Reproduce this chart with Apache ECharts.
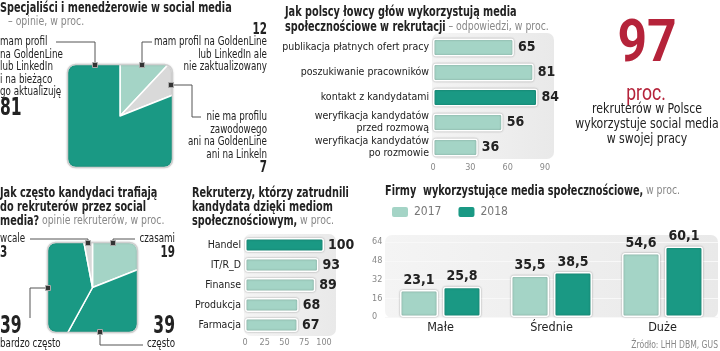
<!DOCTYPE html>
<html>
<head>
<meta charset="utf-8">
<script src="https://cdn.jsdelivr.net/npm/echarts@6/dist/echarts.min.js"></script>
<style>
  html, body { margin: 0; padding: 0; background: #fff; }
  #chart { width: 720px; height: 351px; }
</style>
</head>
<body>
<div id="chart"></div>
<script>
// --- data ---
var profileNames = ['mam profil, nie zaktualizowany', 'nie ma profilu', 'mam profil i aktualizuję'];
var profileVals = [12, 7, 81];

var channelNames = ['czasami', 'często', 'bardzo często', 'wcale'];
var channelVals = [19, 39, 39, 3];

var hunterCats = [
  'publikacja płatnych ofert pracy',
  'poszukiwanie pracowników',
  'kontakt z kandydatami',
  'weryfikacja kandydatów\nprzed rozmową',
  'weryfikacja kandydatów\npo rozmowie'
];
var hunterVals = [65, 81, 84, 56, 36];

var sectorCats = ['Handel', 'IT/R_D', 'Finanse', 'Produkcja', 'Farmacja'];
var sectorVals = [100, 93, 89, 68, 67];

var sizeCats = ['Małe', 'Średnie', 'Duże'];
var firms2017 = [23.1, 35.5, 54.6];
var firms2018 = [25.8, 38.5, 60.1];

// --- style ---
var DARK = '#1a9984';
var LIGHT = '#a4d4c6';
var GREY = '#d9d9d9';
var RED = '#b5233a';
var NARROW = '"DejaVu Sans Condensed", "DejaVu Sans", sans-serif';

var chart = echarts.init(document.getElementById('chart'));

// text with horizontal squeeze to imitate the condensed print face
function txt(x, y, s, o, sx) {
  return {
    type: 'text', x: x, y: y, z: 50, scaleX: sx || 0.81,
    style: Object.assign({
      text: s, fill: '#222', fontSize: 12, fontFamily: NARROW,
      textAlign: 'left', textVerticalAlign: 'middle', verticalAlign: 'middle'
    }, o || {})
  };
}
function line(pts) {
  return { type: 'polyline', z: 40, shape: { points: pts }, style: { stroke: '#555', lineWidth: 1, fill: null } };
}
function marker(x, y) {
  return { type: 'rect', z: 45, shape: { x: x - 2.5, y: y - 2.5, width: 5, height: 5 }, style: { fill: '#333', stroke: '#aaa', lineWidth: 1 } };
}
// white thick frame hides the pie outside the rounded square
function squareFrame(x, y, w, h, r, pad) {
  return [
    { type: 'rect', z: 30, shape: { x: x - pad / 2, y: y - pad / 2, width: w + pad, height: h + pad, r: r + pad / 2 },
      style: { fill: null, stroke: '#fff', lineWidth: pad } },
    { type: 'rect', z: 31, shape: { x: x - 0.5, y: y - 0.5, width: w + 1, height: h + 1, r: r },
      style: { fill: null, stroke: '#cfcfcf', lineWidth: 1.5, shadowBlur: 2, shadowColor: 'rgba(0,0,0,0.15)' } }
  ];
}
function panel(x, y, w, h) {
  return { type: 'rect', z: 0, shape: { x: x, y: y, width: w, height: h, r: 7 },
    style: { fill: new echarts.graphic.LinearGradient(0, 0, 1, 0, [{ offset: 0, color: '#f4f4f4' }, { offset: 1, color: '#e9e9e9' }]) } };
}

var R = { textAlign: 'right' };
var big = function (size, extra) { return Object.assign({ fontWeight: 'bold', fontSize: size }, extra || {}); };
var titleRich = {
  b: { fontWeight: 'bold', fontSize: 13.5, fill: '#222', fontFamily: NARROW, color: '#222' },
  l: { fontSize: 13, fill: '#888', fontFamily: NARROW, color: '#888' }
};
function title(x, y, s) { return txt(x, y, s, { rich: titleRich }, 0.8); }

var graphic = [
  panel(432, 33, 122, 126),
  panel(244, 234, 92, 102),
  panel(385, 235, 333, 83),

  // chart 1 titles
  title(0, 8, '{b|Specjaliści i menedżerowie w social media}'),
  title(8, 22, '{l|– opinie, w proc.}'),
  // pie 1 labels
  txt(0, 42, 'mam profil'), txt(0, 55, 'na GoldenLine'), txt(0, 67, 'lub LinkedIn'),
  txt(0, 80, 'i na bieżąco'), txt(0, 92, 'go aktualizuję'),
  txt(0, 109, String(profileVals[2]), big(24), 0.72),
  txt(267, 30, String(profileVals[0]), big(16, R), 0.72),
  txt(267, 42, 'mam profil na GoldenLine', R),
  txt(267, 55, 'lub LinkedIn ale', R),
  txt(267, 67, 'nie zaktualizowany', R),
  txt(267, 117, 'nie ma profilu', R),
  txt(267, 130, 'zawodowego', R),
  txt(267, 142, 'ani na GoldenLine', R),
  txt(267, 155, 'ani na Linkeln', R),
  txt(267, 168, String(profileVals[1]), big(16, R), 0.72),
  line([[56, 42], [95, 42], [95, 65]]), marker(95, 65),
  line([[142, 65], [142, 42], [152, 42]]), marker(142, 65),
  line([[171, 85], [192, 85], [192, 117], [201, 117]]), marker(171, 85),

  // chart 2 title
  title(285, 12, '{b|Jak polscy łowcy głów wykorzystują media}'),
  title(285, 27, '{b|społecznościowe w rekrutacji} {l|– odpowiedzi, w proc.}'),

  // big number
  txt(647, 46, '97', { textAlign: 'center', fill: RED, fontWeight: 'bold', fontSize: 60, fontFamily: 'Roboto, sans-serif' }, 0.86),
  txt(646, 94, 'proc.', { textAlign: 'center', fill: RED, fontSize: 22, fontFamily: 'Roboto, sans-serif' }, 0.8),
  txt(647, 109, 'rekruterów w Polsce', { textAlign: 'center', fontSize: 13.5 }, 0.9),
  txt(647, 124, 'wykorzystuje social media', { textAlign: 'center', fontSize: 13.5 }, 0.9),
  txt(647, 139, 'w swojej pracy', { textAlign: 'center', fontSize: 13.5 }, 0.9),

  // chart 3 titles
  title(0, 193, '{b|Jak często kandydaci trafiają}'),
  title(0, 207, '{b|do rekruterów przez social}'),
  title(0, 221, '{b|media?} {l|opinie rekruterów, w proc.}'),
  txt(0, 239, channelNames[3]),
  txt(0, 253, String(channelVals[3]), big(16), 0.72),
  txt(175, 239, channelNames[0], R),
  txt(175, 253, String(channelVals[0]), big(16, R), 0.72),
  txt(0, 327, String(channelVals[2]), big(24), 0.72),
  txt(0, 344, channelNames[2]),
  txt(175, 327, String(channelVals[1]), big(24, R), 0.72),
  txt(175, 344, channelNames[1], R),
  line([[30, 239], [88, 239], [88, 243]]), marker(88, 243),
  line([[113, 243], [113, 239], [135, 239]]), marker(113, 243),
  line([[48, 288], [30, 288], [30, 318]]), marker(48, 288),
  line([[100, 332], [100, 345], [143, 345]]), marker(100, 332),

  // chart 4 title
  title(192, 193, '{b|Rekruterzy, którzy zatrudnili}'),
  title(192, 207, '{b|kandydata dzięki mediom}'),
  title(192, 221, '{b|społecznościowym,} {l|w proc.}'),

  // chart 5 title
  title(385, 191, '{b|Firmy  wykorzystujące media społecznościowe,} {l|w proc.}'),
  txt(718, 345, 'Źródło: LHH DBM, GUS', { textAlign: 'right', fill: '#888', fontSize: 10 }, 0.85)
].concat(
  squareFrame(68, 65, 104, 102, 8, 30),
  squareFrame(48, 243, 89, 89, 8, 28)
);

var valueLabel = { show: true, position: 'right', distance: 4, color: '#222', fontWeight: 'bold', fontSize: 14, fontFamily: NARROW };
var barItem = function (hi) {
  return {
    color: function (p) { return p.dataIndex === hi ? DARK : LIGHT; },
    borderColor: '#fff', borderWidth: 1.5, borderRadius: 2,
    shadowBlur: 2, shadowColor: 'rgba(0,0,0,0.3)'
  };
};
var smallAxis = { color: '#888', fontSize: 9, fontFamily: NARROW };
var firmLabel = {
  show: true, position: 'top', distance: 3, color: '#222', fontWeight: 'bold', fontSize: 14, fontFamily: NARROW,
  formatter: function (p) { return String(p.value).replace('.', ','); }
};

var option = {
  animation: false,
  textStyle: { fontFamily: NARROW },
  grid: [
    { left: 433, top: 35, width: 112, height: 125 },
    { left: 245, top: 235, width: 79, height: 100 },
    { left: 385, top: 242, width: 333, height: 75 }
  ],
  xAxis: [
    { gridIndex: 0, type: 'value', min: 0, max: 90, interval: 30, axisLine: { show: false }, axisTick: { show: false },
      splitLine: { show: false }, axisLabel: Object.assign({ margin: 3 }, smallAxis) },
    { gridIndex: 1, type: 'value', min: 0, max: 100, interval: 25, axisLine: { show: false }, axisTick: { show: false },
      splitLine: { show: false }, axisLabel: Object.assign({ margin: 3 }, smallAxis) },
    { gridIndex: 2, type: 'category', data: sizeCats, axisLine: { show: false }, axisTick: { show: false },
      axisLabel: { margin: 4, fontSize: 12.5, color: '#222', fontFamily: NARROW } }
  ],
  yAxis: [
    { gridIndex: 0, type: 'category', inverse: true, data: hunterCats, axisLine: { show: false }, axisTick: { show: false },
      axisLabel: { margin: 4, fontSize: 10.5, lineHeight: 12, color: '#222', fontFamily: NARROW } },
    { gridIndex: 1, type: 'category', inverse: true, data: sectorCats, axisLine: { show: false }, axisTick: { show: false },
      axisLabel: { margin: 4, fontSize: 10.5, color: '#222', fontFamily: NARROW } },
    { gridIndex: 2, type: 'value', min: 0, max: 64, interval: 16, axisLine: { show: false }, axisTick: { show: false },
      splitLine: { lineStyle: { color: '#f8f8f8' } },
      axisLabel: Object.assign({ margin: 13, align: 'left' }, smallAxis) }
  ],
  legend: {
    data: ['2017', '2018'], left: 385, top: 200, itemWidth: 18, itemHeight: 12, itemGap: 15,
    textStyle: { fontSize: 12, color: '#777', fontFamily: NARROW }
  },
  series: [
    { type: 'pie', center: [120, 116], radius: 76, startAngle: 90, silent: true, label: { show: false },
      itemStyle: { borderColor: '#fff', borderWidth: 1.5 },
      data: profileVals.map(function (v, i) {
        return { name: profileNames[i], value: v, itemStyle: { color: [LIGHT, GREY, DARK][i] } };
      }) },
    { type: 'pie', center: [92.5, 287.5], radius: 66, startAngle: 90, silent: true, label: { show: false },
      itemStyle: { borderColor: '#fff', borderWidth: 1.5 },
      data: channelVals.map(function (v, i) {
        return { name: channelNames[i], value: v, itemStyle: { color: [LIGHT, DARK, DARK, GREY][i] } };
      }) },
    { type: 'bar', xAxisIndex: 0, yAxisIndex: 0, data: hunterVals, barWidth: 18, itemStyle: barItem(2), label: valueLabel },
    { type: 'bar', xAxisIndex: 1, yAxisIndex: 1, data: sectorVals, barWidth: 14, itemStyle: barItem(0), label: valueLabel },
    { type: 'bar', name: '2017', xAxisIndex: 2, yAxisIndex: 2, data: firms2017, barWidth: 38, barGap: '13%',
      itemStyle: { color: LIGHT, borderColor: '#fff', borderWidth: 1.5, borderRadius: 2, shadowBlur: 2, shadowColor: 'rgba(0,0,0,0.3)' },
      label: firmLabel },
    { type: 'bar', name: '2018', xAxisIndex: 2, yAxisIndex: 2, data: firms2018, barWidth: 38, barGap: '13%',
      itemStyle: { color: DARK, borderColor: '#fff', borderWidth: 1.5, borderRadius: 2, shadowBlur: 2, shadowColor: 'rgba(0,0,0,0.3)' },
      label: firmLabel }
  ],
  graphic: graphic
};

chart.setOption(option);
</script>
</body>
</html>
